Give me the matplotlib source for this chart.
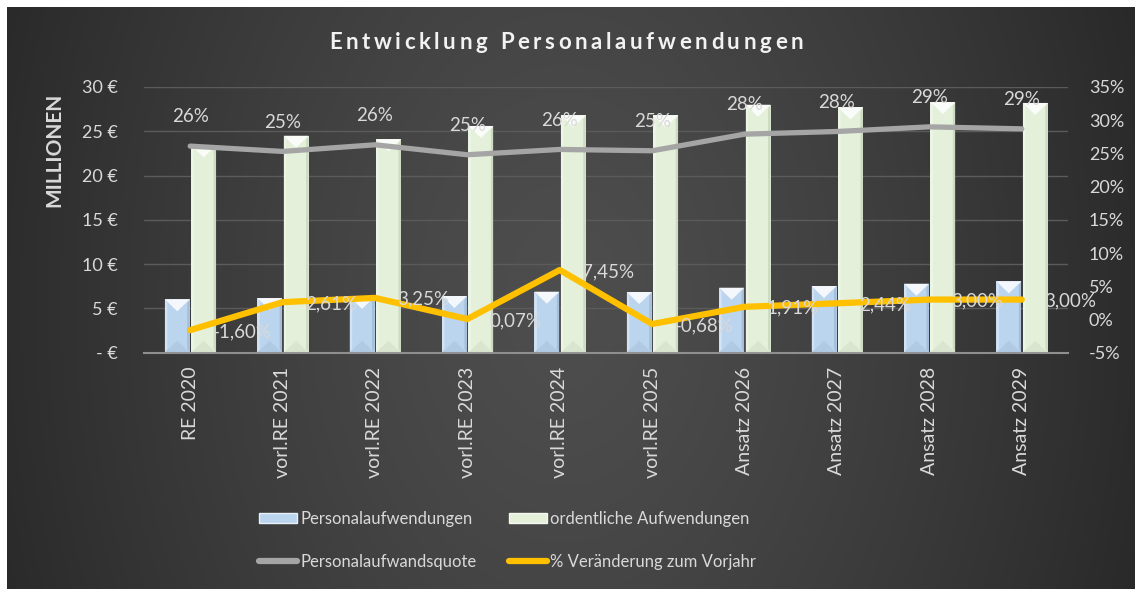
import numpy as np
import matplotlib
matplotlib.use('Agg')
import matplotlib.pyplot as plt
from matplotlib.patches import Polygon, Patch
from matplotlib.lines import Line2D
from matplotlib.font_manager import FontProperties

# Daten (in Mio. EUR bzw. %)
kategorien = ['RE 2020', 'vorl.RE 2021', 'vorl.RE 2022', 'vorl.RE 2023', 'vorl.RE 2024',
              'vorl.RE 2025', 'Ansatz 2026', 'Ansatz 2027', 'Ansatz 2028', 'Ansatz 2029']
personal = [6.03, 6.17, 6.30, 6.40, 6.89, 6.85, 7.34, 7.53, 7.79, 8.06]
ordentlich = [23.4, 24.5, 24.1, 25.6, 26.8, 26.8, 28.0, 27.7, 28.3, 28.2]
quote = [26.1, 25.3, 26.3, 24.8, 25.6, 25.4, 27.9, 28.3, 29.0, 28.7]
veraenderung = [-1.60, 2.61, 3.25, 0.07, 7.45, -0.68, 1.91, 2.44, 3.00, 3.00]
ticks_links = [0, 5, 10, 15, 20, 25, 30]
ticks_rechts = [-5, 0, 5, 10, 15, 20, 25, 30, 35]

W, H = 1135, 589
FONT = 'Lato'
TXT = '#d9d9d9'
BLAU = '#bcd5ee'
GRUEN = '#e4f0da'
GRAU = '#a5a5a5'
GELB = '#ffc000'

fig = plt.figure(figsize=(W / 100, H / 100), dpi=100, facecolor='white')

# Hintergrund mit radialem Verlauf
bg = fig.add_axes([7 / W, 0, 1 - 7 / W, 1 - 7 / H])
bg.set_axis_off()
yy, xx = np.mgrid[0:H, 0:W]
r = np.sqrt(((xx - 560) / 620.0) ** 2 + ((yy - 300) / 900.0) ** 2)
r = np.clip(r, 0, 1) ** 1.3
c = 0.305 + (0.158 - 0.305) * r
bg.imshow(np.dstack([c, c, c]), aspect='auto', extent=[0, 1, 0, 1])

links, rechts, unten, oben = 144, 1068, 352.7, 87
ax = fig.add_axes([links / W, 1 - unten / H, (rechts - links) / W, (unten - oben) / H])
ax.set_facecolor('none')
ax2 = ax.twinx()
ax2.set_facecolor('none')

x = np.arange(len(kategorien))
bw = 0.27
ax.set_xlim(-0.5, len(kategorien) - 0.5)
ax.set_ylim(0, 30)
ax2.set_ylim(-5, 35)

# Pixel -> Dateneinheiten fuer den Bevel-Effekt
dy = 12 * 30 / (unten - oben)
dx_side = 2.5 * (len(kategorien)) / (rechts - links)


def bevel_balken(ax, xs, werte, farbe, dunkel):
    bars = ax.bar(xs, werte, bw, color=farbe, edgecolor='none', zorder=2)
    for b in bars:
        x0, w, h = b.get_x(), b.get_width(), b.get_height()
        xc = x0 + w / 2
        ax.add_patch(Polygon([(x0, 0), (x0 + dx_side, dy / 3), (x0 + dx_side, h - dy / 3), (x0, h)],
                             closed=True, facecolor='white', alpha=0.35, edgecolor='none', zorder=3))
        ax.add_patch(Polygon([(x0 + w, 0), (x0 + w - dx_side, dy / 3), (x0 + w - dx_side, h - dy / 3),
                              (x0 + w, h)], closed=True, facecolor=dunkel, alpha=0.45,
                             edgecolor='none', zorder=3))
        ax.add_patch(Polygon([(x0, h), (x0 + w, h), (xc, h - dy)], closed=True,
                             facecolor='white', alpha=0.85, edgecolor='none', zorder=3))
        ax.add_patch(Polygon([(x0, 0), (x0 + w, 0), (xc, dy)], closed=True,
                             facecolor=dunkel, alpha=0.22, edgecolor='none', zorder=3))
    return bars


bevel_balken(ax, x - 0.14, personal, BLAU, '#8aa6c2')
bevel_balken(ax, x + 0.146, ordentlich, GRUEN, '#b4c2a8')

ax.set_axisbelow(True)
ax.yaxis.grid(True, color='#5b5b5b', lw=1)
ax.set_yticks(ticks_links)
ax.set_yticklabels(['- €' if v == 0 else f'{v} €' for v in ticks_links])
ax.tick_params(axis='y', length=0, pad=19, labelsize=13, labelcolor=TXT)
ax.set_xticks(x)
ax.set_xticklabels(kategorien, rotation=90, va='top', ha='center')
ax.tick_params(axis='x', length=0, pad=10, labelsize=14, labelcolor=TXT)
for s in ['top', 'left', 'right']:
    ax.spines[s].set_visible(False)
    ax2.spines[s].set_visible(False)
ax.spines['bottom'].set_color('#8f8f8f')
ax.spines['bottom'].set_linewidth(1.5)
ax2.spines['bottom'].set_visible(False)

ax2.set_yticks(ticks_rechts)
ax2.set_yticklabels([f'{v}%' for v in ticks_rechts])
ax2.tick_params(axis='y', length=0, pad=15, labelsize=13, labelcolor=TXT)

ax2.plot(x, quote, color=GRAU, lw=3.8, solid_capstyle='round', solid_joinstyle='round', zorder=4)
ax2.plot(x, veraenderung, color=GELB, lw=4.5, solid_capstyle='round', solid_joinstyle='round', zorder=5)

for xi, q in zip(x, quote):
    ax2.annotate(f'{q:.0f}%', (xi, q), xytext=(0, 21), textcoords='offset points',
                 ha='center', va='center', fontsize=13.5, color=TXT, zorder=6)
for xi, v in zip(x, veraenderung):
    ax2.annotate(f'{v:.2f}%'.replace('.', ','), (xi, v), xytext=(16, -1), textcoords='offset points',
                 ha='left', va='center', fontsize=13.5, color=TXT, zorder=6)

for t in ax.get_xticklabels() + ax.get_yticklabels() + ax2.get_yticklabels():
    t.set_family(FONT)
for t in ax2.texts:
    t.set_family(FONT)

fig.text(54 / W, 1 - 150 / H, 'MILLIONEN', rotation=90, ha='center', va='center',
         fontsize=15, fontweight='bold', color=TXT, family=FONT)

# Legende
handles = [Patch(facecolor=BLAU, edgecolor='#e8f1fa', lw=1),
           Line2D([], [], color=GRAU, lw=4.5, solid_capstyle='round'),
           Patch(facecolor=GRUEN, edgecolor='#f4f9ef', lw=1),
           Line2D([], [], color=GELB, lw=4.5, solid_capstyle='round')]
labels = ['Personalaufwendungen', 'Personalaufwandsquote',
          'ordentliche Aufwendungen', '% Veränderung zum Vorjahr']
leg = fig.legend(handles, labels, ncol=2, loc='upper left', bbox_to_anchor=(259 / W, 1 - 511 / H),
                 frameon=False, borderpad=0, borderaxespad=0, handlelength=2.3, handleheight=0.6,
                 handletextpad=0.2, columnspacing=1.9, labelspacing=1.6,
                 prop=FontProperties(family=FONT, size=12))
for t in leg.get_texts():
    t.set_color(TXT)

# Titel mit Sperrung
titel = 'Entwicklung Personalaufwendungen'
fp = FontProperties(family=FONT, weight='bold', size=16)
fig.canvas.draw()
rend = fig.canvas.get_renderer()


def breite(s):
    return rend.get_text_width_height_descent(s, fp, ismath=False)[0]


gesamt = 474
track = (gesamt - breite(titel)) / (len(titel) - 1)
x0 = 566 - gesamt / 2
bar_w = breite('|')
for i, ch in enumerate(titel):
    if ch == ' ':
        continue
    pos = breite(titel[:i] + '|') - bar_w if i > 0 else 0
    fig.text((x0 + pos + i * track) / W, 1 - 49.3 / H, ch, fontproperties=fp,
             color='#f2f2f2', ha='left', va='baseline')

fig.savefig('out.png', dpi=100, facecolor=fig.get_facecolor())
